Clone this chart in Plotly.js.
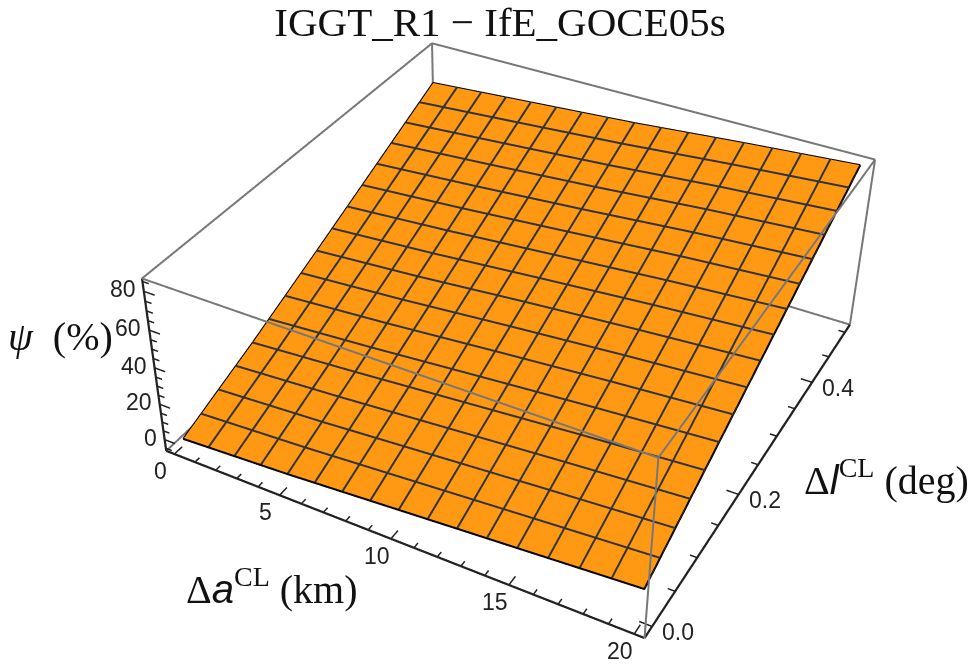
<!DOCTYPE html>
<html>
<head>
<meta charset="utf-8">
<script src="https://cdn.plot.ly/plotly-3.0.1.min.js"></script>
<style>
html,body{margin:0;padding:0;background:#fff;overflow:hidden}
#frame{position:relative;width:974px;height:667px;overflow:hidden}
#plot{position:absolute;left:-593px;top:-404px;width:2156px;height:1477px}
</style>
</head>
<body>
<div id="frame"><div id="plot"></div></div>
<script>
// Data
var xValues = [0, 5, 10, 15, 20];
var yValues = [0, 0.125, 0.25, 0.375, 0.5];
var zValues = [
  [-3, 0, 4, 8, 12],
  [13.5, 17.5, 22, 26.5, 30.5],
  [31.5, 35.5, 40.5, 45, 49],
  [50, 54, 58.5, 63.5, 67.5],
  [68.5, 72.5, 76.5, 81.5, 86]
];
var meshX = [1.25, 2.5, 3.75, 5, 6.25, 7.5, 8.75, 10, 11.25, 12.5, 13.75, 15, 16.25, 17.5, 18.75];
var meshY = [0.03125, 0.0625, 0.09375, 0.125, 0.15625, 0.1875, 0.21875, 0.25, 0.28125, 0.3125, 0.34375, 0.375, 0.40625, 0.4375, 0.46875];
var xRange = [-0.4, 20.4];
var yRange = [-0.016, 0.516];
var zRange = [-6.5, 86.5];
var xMajor = [0, 5, 10, 15, 20];
var yMajor = [0.0, 0.2, 0.4];
var zMajor = [0, 20, 40, 60, 80];
var xMinor = [1, 2, 3, 4, 6, 7, 8, 9, 11, 12, 13, 14, 16, 17, 18, 19];
var yMinor = [0.05, 0.1, 0.15, 0.25, 0.3, 0.35, 0.45, 0.5];
var zMinor = [-5, 5, 10, 15, 25, 30, 35, 45, 50, 55, 65, 70, 75, 85];
var titleText = 'IGGT_R1 \u2212 IfE_GOCE05s';

var W = 2156, H = 1477, OX = 593, OY = 404;
function px(x){ return (x + OX) / W; }
function py(y){ return 1 - (y + OY) / H; }

var ORANGE = '#ff9914', MESH = '#333333', GREY = '#777777', AXIS = '#222222';

var surface = {
  type: 'surface', x: xValues, y: yValues, z: zValues,
  showscale: false, hoverinfo: 'skip',
  colorscale: [[0, ORANGE], [1, ORANGE]],
  lighting: {ambient: 1, diffuse: 0, specular: 0, fresnel: 0, roughness: 1}
};

function lines(color, width, segs){
  var t = {type: 'scatter3d', mode: 'lines', x: [], y: [], z: [], hoverinfo: 'skip', showlegend: false,
           line: {color: color, width: width}};
  segs.forEach(function(s){
    s.forEach(function(p){ t.x.push(p[0]); t.y.push(p[1]); t.z.push(p[2]); });
    t.x.push(null); t.y.push(null); t.z.push(null);
  });
  return t;
}

var x0 = xRange[0], x1 = xRange[1], y0 = yRange[0], y1 = yRange[1], z0 = zRange[0], z1 = zRange[1];
var greyEdges = lines(GREY, 4, [
  [[x0,y0,z1],[x1,y0,z1]], [[x0,y1,z1],[x1,y1,z1]], [[x0,y0,z1],[x0,y1,z1]], [[x1,y0,z1],[x1,y1,z1]],
  [[x1,y0,z0],[x1,y0,z1]], [[x1,y1,z0],[x1,y1,z1]], [[x0,y1,z0],[x0,y1,z1]],
  [[x0,y0,z0],[x0,y1,z0]], [[x0,y1,z0],[x1,y1,z0]]
]);
var darkEdges = lines(AXIS, 4.5, [
  [[x0,y0,z0],[x1,y0,z0]], [[x1,y0,z0],[x1,y1,z0]], [[x0,y0,z0],[x0,y0,z1]]
]);

var dxT = x1 - x0, dyT = y1 - y0;
var tickSegs = [];
function addTicks(list, k){
  list.x.forEach(function(v){ tickSegs.push([[v,y0,z0],[v,y0 + k*dyT,z0]]); });
  list.y.forEach(function(v){ tickSegs.push([[x1,v,z0],[x1 - k*dxT,v,z0]]); });
  list.z.forEach(function(v){ tickSegs.push([[x0,y0,v],[x0 + k*dxT,y0,v]]); });
}
addTicks({x: xMajor, y: yMajor, z: zMajor}, 0.024);
addTicks({x: xMinor, y: yMinor, z: zMinor}, 0.014);
var ticks = lines(AXIS, 3, tickSegs);

// mesh lines follow the drawn surface, from its own table
function locate(list, v){
  var i = Math.min(Math.floor((v - list[0]) / (list[1] - list[0])), list.length - 2);
  return [i, (v - list[i]) / (list[i + 1] - list[i])];
}
function surfaceAt(x, y){
  var a = locate(xValues, x), b = locate(yValues, y);
  var r0 = zValues[b[0]][a[0]] * (1 - a[1]) + zValues[b[0]][a[0] + 1] * a[1];
  var r1 = zValues[b[0] + 1][a[0]] * (1 - a[1]) + zValues[b[0] + 1][a[0] + 1] * a[1];
  return r0 * (1 - b[1]) + r1 * b[1] + 0.4;
}
var meshSegs = [];
meshX.forEach(function(x){
  meshSegs.push(yValues.map(function(y){ return [x, y, surfaceAt(x, y)]; }));
});
meshY.forEach(function(y){
  meshSegs.push(xValues.concat(meshX).sort(function(a, b){ return a - b; })
    .map(function(x){ return [x, y, surfaceAt(x, y)]; }));
});
var mesh = lines(MESH, 4, meshSegs);

var edge = [];
yValues.forEach(function(y, i){ edge.push([xValues[0], y, zValues[i][0]]); });
xValues.forEach(function(x, j){ edge.push([x, yValues[4], zValues[4][j]]); });
yValues.slice().reverse().forEach(function(y, i){ edge.push([xValues[4], y, zValues[4-i][4]]); });
xValues.slice().reverse().forEach(function(x, j){ edge.push([x, yValues[0], zValues[0][4-j]]); });
var border = lines('#000000', 4, [edge]);

// axis ranges reach a hair past the box so its edges are not clipped
function axisOpts(range, tv){
  var pad = (range[1] - range[0]) * 0.002;
  return {range: [range[0] - pad, range[1] + pad], autorange: false, tickmode: 'array', tickvals: tv,
          showticklabels: false, ticks: '', showgrid: false, zeroline: false, showbackground: false,
          showline: false, showspikes: false, title: {text: ''}};
}
var tickFont = {family: 'Liberation Sans, Arial, sans-serif', size: 23, color: '#222'};
var sceneNotes = [];
function note(x, y, z, text, sx, sy, anchor){
  sceneNotes.push({x: x, y: y, z: z, text: text, showarrow: false, xshift: sx, yshift: sy, font: tickFont,
                   xanchor: anchor, yanchor: 'middle'});
}
xMajor.forEach(function(v){ note(v, y0, z0, String(v), -14, -17, 'center'); });
yMajor.forEach(function(v){ note(x1, v, z0, v.toFixed(1), 26, -6, 'center'); });
zMajor.forEach(function(v){ note(x0, y0, v, String(v), -6, 2, 'right'); });

var serif = 'Liberation Serif, Times New Roman, serif';
var sans = 'font-family:Liberation Sans,Arial,sans-serif';
function label(x, y, text){
  return {xref: 'paper', yref: 'paper', x: px(x), y: py(y), text: text, showarrow: false,
          xanchor: 'center', yanchor: 'middle', font: {family: serif, size: 40, color: '#111'}};
}

var layout = {
  width: W, height: H, margin: {l: 0, r: 0, t: 0, b: 0}, autosize: false,
  paper_bgcolor: '#fff', showlegend: false,
  title: {text: titleText, x: px(500), y: py(22), xanchor: 'center', yanchor: 'middle',
          font: {family: serif, size: 41, color: '#111'}},
  annotations: [
    label(60, 336, '<i>\u03c8</i>  (%)'),
    label(272, 586, '\u0394<span style="' + sans + '"><i>a</i></span><sup>CL</sup> (km)'),
    label(886, 478, '\u0394<span style="' + sans + '"><i>l</i></span><sup>CL</sup> (deg)')
  ],
  scene: {
    domain: {x: [0, 1], y: [0, 1]},
    aspectmode: 'manual', aspectratio: {x: 1, y: 1.015, z: 0.4},
    camera: {
      projection: {type: 'perspective'},
      up: {x: 0, y: 0, z: 1},
      center: {x: -0.05, y: -0.068, z: -0.048},
      eye: {x: 1.276, y: -2.464, z: 2.0}
    },
    xaxis: axisOpts(xRange, xMajor),
    yaxis: axisOpts(yRange, yMajor),
    zaxis: axisOpts(zRange, zMajor),
    annotations: sceneNotes
  }
};

Plotly.newPlot('plot', [surface, mesh, border, greyEdges, darkEdges, ticks], layout, {displayModeBar: false, responsive: false});
</script>
</body>
</html>
